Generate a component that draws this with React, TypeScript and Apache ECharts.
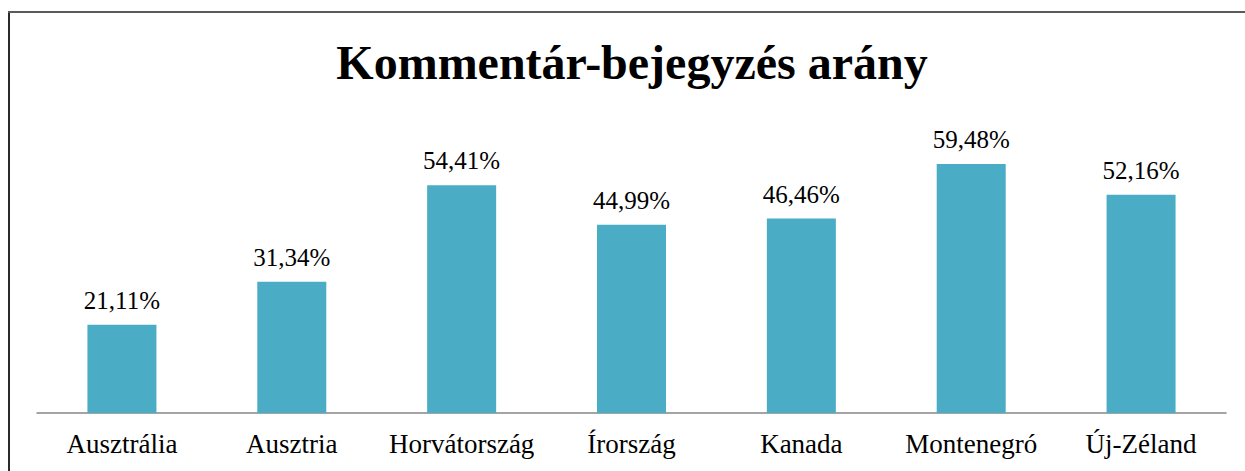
import React, { useEffect, useRef } from "react";
import * as echarts from "echarts";

const categories = ["Ausztrália", "Ausztria", "Horvátország", "Írország", "Kanada", "Montenegró", "Új-Zéland"];
const values = [21.11, 31.34, 54.41, 44.99, 46.46, 59.48, 52.16];
const titleText = "Kommentár-bejegyzés arány";

const FONT = "'Liberation Serif', 'Times New Roman', serif";

export default function App() {
  const ref = useRef<HTMLDivElement>(null);
  useEffect(() => {
    if (!ref.current) return;
    const chart = echarts.init(ref.current, null, { renderer: "svg" });
    chart.setOption({
      animation: false,
      backgroundColor: "#ffffff",
      title: {
        text: titleText,
        left: 627,
        top: 33,
        textAlign: "center",
        textStyle: { fontFamily: FONT, fontSize: 48, fontWeight: "bold", color: "#000" },
      },
      grid: { left: 37, right: 19, top: 120, bottom: 58, containLabel: false },
      xAxis: {
        type: "category",
        data: categories,
        axisLine: { show: true, lineStyle: { color: "#868686", width: 1.5 } },
        axisTick: { show: false },
        axisLabel: { fontFamily: FONT, fontSize: 27, color: "#000", margin: 17, interval: 0 },
      },
      yAxis: {
        type: "value",
        min: 0,
        max: 70,
        show: false,
        splitLine: { show: false },
      },
      series: [
        {
          type: "bar",
          data: values,
          barWidth: 69,
          itemStyle: { color: "#4bacc6" },
          label: {
            show: true,
            position: "top",
            distance: 12,
            fontFamily: FONT,
            fontSize: 25,
            color: "#000",
            formatter: (p: any) => p.value.toFixed(2).replace(".", ",") + "%",
          },
        },
      ],
      graphic: [
        { type: "line", shape: { x1: 9, y1: 11, x2: 9, y2: 471 }, style: { stroke: "#2a2a2a", lineWidth: 2 } },
        { type: "line", shape: { x1: 8, y1: 12, x2: 1245, y2: 12 }, style: { stroke: "#5a5a5a", lineWidth: 2 } },
      ],
    });
    return () => chart.dispose();
  }, []);
  return <div ref={ref} style={{ position: "fixed", left: 0, top: 0, width: 1245, height: 471 }} />;
}
